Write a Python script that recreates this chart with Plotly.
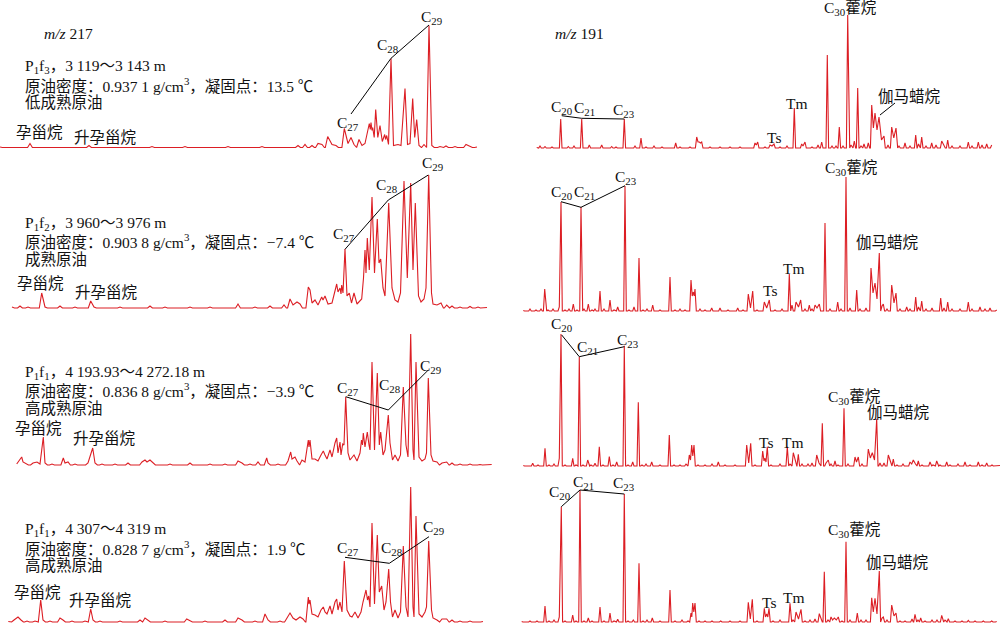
import plotly.graph_objects as go

# ---------------- data: chromatogram vertices (retention position, relative abundance) ----------------
# m/z 217 (steranes), four oils
l1_rt = [0, 30, 89, 152, 185, 228, 262, 298, 305, 312, 318, 322, 327.7, 332, 336, 344.3, 348, 351, 354, 359, 362, 365,
         369.3, 370.3, 371, 372, 372.7, 374.2, 375.7, 377.8, 380, 382.3, 384.7, 385.6, 386.7, 388.5, 391, 393.5, 398, 401,
         405, 407.5, 410, 412.7, 414.7, 416.7, 419, 424, 429, 431.8, 440, 446, 455, 466, 470, 477]
l1_ab = [0.5, 4, 2, 1, 1, 1, 1, 2, 3, 2, 4, 3, 11, 3, 2, 19, 4, 10, 3, 8, 2, 4,
         24, 18, 25, 17, 20, 10, 38, 10, 22, 6, 13, 8, 12, 3, 89, 2, 3, 2,
         59, 3, 4, 49, 10, 28, 2, 3, 122, 2, 1, 1.5, 1, 3, 1, 0.5]

l2_rt = [12, 20, 28, 41.7, 45, 60, 75, 90.7, 94, 120, 150, 165, 190, 210, 238, 255, 270, 284, 290, 293, 297, 300, 308.3,
         310, 312, 315, 318, 321.7, 323, 325, 328, 332, 336.7, 338, 340, 341, 341.7, 343, 345, 347, 349.3, 351.5, 354, 357,
         361.7, 363.5, 365, 366, 367.3, 369.3, 372, 374.5, 377.3, 379, 380.7, 383, 385, 388.7, 392, 395, 398, 400.5, 404,
         407.3, 410.7, 413, 415.3, 418.5, 421, 424, 426, 428.7, 431.5, 433, 437, 441, 446.7, 452, 460, 470, 478, 487]
l2_ab = [1, 2, 1, 15, 1, 2, 1, 7, 1, 1, 2, 1, 1, 1, 4, 1, 2, 3, 9, 3, 6, 4, 21,
         18, 5, 8, 3, 11, 8, 12, 4, 5, 24, 16, 20, 14, 23, 15, 59, 12, 15, 5, 15, 4,
         9, 30, 58, 35, 70, 38, 111, 35, 89, 45, 49, 20, 12, 105, 20, 8, 6, 15, 127,
         30, 125, 38, 105, 12, 6, 9, 20, 133, 15, 4, 3, 5, 3, 2, 1, 1.5, 1, 0.5]

l3_rt = [16.7, 19, 21.7, 23, 26, 33, 37, 40, 43.3, 45, 52, 63.3, 65, 68, 75, 88, 92.7, 95, 102, 115, 128, 142, 145, 147,
         150, 153, 170, 190, 210, 225, 238, 242, 250, 258, 266.7, 268, 278, 288, 290.7, 292, 295, 297, 302, 305, 308.3,
         309, 310, 312, 315, 318, 321, 323.3, 325, 327, 330, 332, 335, 336.7, 338, 340, 341, 342.7, 344, 345.7, 348, 350,
         354, 357, 360, 361.5, 362.5, 363.3, 365, 367.3, 369, 370, 372, 374.5, 377.3, 379.3, 380.7, 383, 385, 386, 388.3,
         390, 392.5, 395, 398, 400.5, 403.3, 406, 408, 410.7, 413, 414, 416, 419, 422, 425, 426.5, 428.3, 431, 433, 437,
         442, 446.7, 452, 460, 470, 480, 491.7]
l3_ab = [1, 4, 8, 3, 1, 2, 3, 1, 28, 2, 1, 7, 2, 3, 1, 2, 17, 2, 1, 1, 2, 3, 5, 3,
         5, 2, 1, 2, 1, 1, 4, 2, 1, 3, 7, 2, 1, 4, 13, 6, 8, 4, 5, 3, 25,
         18, 25, 6, 6, 4, 10, 14, 10, 6, 15, 8, 22, 27, 12, 23, 10, 21, 20, 68, 12, 5,
         10, 4, 12, 25, 20, 32, 18, 33, 20, 15, 103, 15, 92, 20, 33, 10, 15, 25, 50,
         22, 5, 10, 4, 10, 78, 20, 8, 131, 15, 5, 103, 8, 4, 6, 12, 87, 10, 4, 3,
         2, 3, 2, 1, 1, 0.5, 0.5]

l4_rt = [8.3, 14, 18, 21, 27, 35, 40.7, 43, 50, 60, 63, 72, 85, 90.7, 93, 100, 120, 140, 145, 148, 165, 186.7, 190, 205,
         225, 238, 242, 255, 265, 268, 280, 287, 290, 293, 296, 300, 303, 308.3, 309, 310, 312, 315, 318, 321, 323.3, 325,
         327, 330, 332, 335, 336.7, 338, 340, 342, 344.3, 347, 350, 352, 355, 358, 361, 363, 366, 367.5, 368.7, 370, 372,
         374.5, 377.3, 379.3, 381.7, 384, 386, 388.7, 390.5, 392.5, 395, 398, 400.5, 403.3, 406, 408, 410.7, 413, 414,
         416, 419, 422, 425, 426.5, 428.7, 431.5, 433, 437, 442, 446.7, 452, 460, 470, 483]
l4_ab = [0.5, 2, 5, 2, 1, 1, 22, 2, 1, 4, 2, 1, 1, 13, 2, 1, 1, 2, 4, 2, 1, 3, 1, 1,
         2, 4, 2, 1, 8, 2, 1, 4, 9, 4, 2, 5, 3, 25, 18, 22, 8, 7, 5, 12, 15, 10,
         8, 16, 8, 20, 23, 12, 20, 10, 61, 12, 6, 5, 10, 4, 10, 20, 32, 22, 26, 15, 99,
         18, 87, 30, 36, 12, 20, 53, 20, 5, 12, 4, 10, 76, 15, 5, 135, 15, 5,
         106, 8, 5, 10, 15, 81, 12, 4, 2, 3, 3, 2, 1, 1, 0.5]

# m/z 191 (terpanes), four oils
r1_rt = [536.7, 540, 545, 552, 560.7, 568.3, 574, 581.7, 589.3, 601.7, 611.7, 616, 624.3, 635, 641, 646, 654, 662, 675.7,
         680, 690, 696.7, 698, 699.3, 700.5, 701.7, 710, 720, 730, 740, 755, 756.4, 757.7, 765, 770, 772, 774, 780, 787,
         794.3, 801.7, 803, 805, 812, 818, 821.7, 827.3, 832, 836, 839.3, 843, 847.7, 851, 854.3, 857.7, 861, 864, 868.3,
         871.7, 873.4, 875, 877, 879, 881.5, 884, 888, 891.7, 893.8, 896, 899, 905, 910, 915.7, 918.5, 921.7, 926, 931.7,
         936, 941.7, 944, 947.7, 952, 960, 968.3, 972, 978.3, 982, 986.7, 991.7]
r1_ab = [0.5, 2, 1.5, 1, 29, 1.5, 2, 29, 3, 3, 1.5, 1, 29, 2, 10, 1, 2, 1, 5,
         1, 1, 11, 6, 6, 5, 6, 1, 1, 1, 1, 5, 3, 6, 1, 3, 2, 4, 1, 2,
         40, 4, 2, 6, 1, 3, 6, 93, 2, 2, 21, 2, 133, 3, 7, 60, 2, 4, 5,
         43, 20, 35, 18, 31, 8, 12, 3, 21, 10, 20, 2, 5, 2, 13, 4, 11, 2, 5,
         3, 7, 3, 8, 2, 2, 6, 2, 6, 3, 4, 3]

r2_rt = [523.3, 530, 536, 541, 544.7, 548, 553, 559.3, 561, 565, 569, 573.3, 577, 581, 584, 588.3, 592, 595, 600, 604,
         610, 614, 617.7, 625, 629, 634, 639, 643, 647, 652.7, 660, 670, 675, 680, 685, 691, 692.2, 693.3, 694.2, 695,
         700, 705, 711.7, 720, 728, 737.7, 743, 748.3, 750.5, 752.7, 757, 764.3, 766.7, 769.3, 775, 782, 789.3, 792, 796,
         798.5, 800.7, 805, 809.3, 812, 815, 817, 819.3, 825, 830, 837.7, 841, 846, 850, 856.7, 860, 866, 871, 873, 875,
         877, 879.3, 882, 883.3, 887, 891.7, 894, 896, 900, 906.7, 910, 915.7, 918.5, 921.7, 926, 932, 940.7, 944, 947.7,
         952, 960, 968.3, 972, 980, 985, 990, 996.7]
r2_ab = [0.5, 2, 1, 2, 22, 1, 2, 4, 109, 1, 2, 7, 1, 104, 2, 7, 1, 2, 20, 2,
         11, 1, 4, 125, 1, 4, 53, 1, 2, 6, 1, 34, 1, 2, 1, 31, 15, 19, 15, 22,
         2, 1, 3, 3, 1, 3, 1, 17, 3, 20, 1, 9, 3, 11, 1, 2, 37, 6, 9,
         4, 11, 2, 6, 2, 6, 3, 7, 88, 2, 9, 2, 134, 3, 21, 2, 3, 43, 18, 28,
         12, 58, 5, 7, 2, 26, 8, 18, 2, 4, 2, 14, 4, 10, 2, 3, 13, 3, 9,
         2, 2, 9, 2, 4, 2, 3, 1]

r3_rt = [523.3, 532.7, 538, 545, 549, 554, 559.3, 561, 565, 572.7, 576, 579.3, 583, 587.7, 591, 595, 599.3, 603, 609.3,
         613, 616.7, 624.3, 628, 632.7, 638.3, 642, 646, 651.7, 660, 669.3, 674, 680, 686, 689.3, 690.5, 691.7, 692.8,
         694, 698, 705, 712, 718.3, 725, 735, 746.7, 748.7, 750.7, 755, 762.7, 764, 765, 766, 767.3, 771, 780, 787.3,
         790, 793.3, 795.5, 798.3, 802, 808, 812, 816.7, 819, 822.3, 826, 828.3, 831, 835, 838, 844, 848, 855, 856.5,
         858.3, 862, 868.3, 870.3, 872.3, 874.5, 876.7, 880, 884, 888.3, 890.5, 893.3, 897, 903, 910, 911.7, 913.3,
         915.5, 918.3, 922, 930, 933, 936.7, 940, 946.7, 950, 958, 965, 970, 978.3, 982, 986.7, 992, 1000]
r3_ab = [0.5, 2.7, 1, 17.7, 1, 2, 7.7, 132, 1, 7.7, 1, 109.3, 1, 6, 1, 2.7, 19.3, 1, 9.3,
         1, 4, 120.3, 1, 4, 63.7, 1, 2, 4, 1, 31, 1, 1, 2, 11, 6, 21, 10,
         21, 1, 1, 2, 4, 1, 1, 21, 3, 22.7, 1, 15, 5, 7.7, 4, 19.3, 1, 2, 19.3,
         2, 13.3, 3, 11.7, 2, 2, 3, 11, 3, 42.7, 3, 6, 2, 5, 1, 57.7, 2, 9, 4,
         9, 2, 17, 8, 13.3, 6, 47, 3, 3, 11, 3, 7, 1, 2, 4, 2, 6,
         2, 5, 1, 4, 1, 5, 1, 4, 1, 2, 4, 1, 4, 1, 3, 1, 0.5]

r4_rt = [521.7, 530, 537, 545, 549, 554, 559.3, 561.3, 565, 572.7, 576, 580, 584, 588.3, 592, 600, 604, 610, 614, 617.7,
         624.3, 628, 633.3, 639, 643, 647, 652.3, 660, 670, 675, 682, 688, 691, 691.8, 692.7, 693.8, 695, 699, 705, 712,
         720.7, 730, 740, 748.3, 750.3, 752.3, 757, 764.3, 765.5, 766.7, 767.8, 769, 773, 780, 790, 793, 796, 798.5, 801,
         805, 810, 815, 819.3, 821, 824.3, 828, 831, 832.6, 834.3, 836.3, 838.3, 842, 846, 850, 857.3, 861, 866, 871.7,
         873.3, 875, 877, 879.3, 882, 883.3, 887, 891.7, 894, 896, 900, 905, 912, 915, 918, 920.7, 925, 932, 937, 941.7,
         945, 948.3, 955, 962, 968.3, 975, 983.3, 991.7, 996.7]
r4_ab = [0.5, 1, 1, 16, 1, 2, 5, 115.3, 1, 7, 1, 132, 1, 4, 1, 15, 1, 9, 1, 2.7,
         128, 1, 2, 58.7, 1, 2, 4, 1, 32, 1, 2, 1, 9, 5, 19, 10, 19, 1, 1, 1,
         1, 1, 1, 19.7, 3, 22.7, 1, 13.7, 5, 8, 5, 13.7, 1, 2, 18.7, 2, 10, 3, 12.7,
         1, 2, 3, 8.3, 3, 50.3, 2, 5, 2, 4, 2, 5, 1, 80.3, 2, 9, 2, 2, 24.3,
         10, 23.7, 8, 51, 4, 5, 2, 17, 6, 9, 1, 1, 3, 7.7, 2, 4, 1, 2, 2, 6.7,
         2, 3.3, 1, 1, 1.7, 1, 1, 1, 0.5]

# sample descriptions
sample_lines = [
    ["P<sub>1</sub>f<sub>3</sub>，3 119～3 143 m", "原油密度：0.937 1 g/cm<sup>3</sup>，凝固点：13.5 ℃", "低成熟原油"],
    ["P<sub>1</sub>f<sub>2</sub>，3 960～3 976 m", "原油密度：0.903 8 g/cm<sup>3</sup>，凝固点：−7.4 ℃", "成熟原油"],
    ["P<sub>1</sub>f<sub>1</sub>，4 193.93～4 272.18 m", "原油密度：0.836 8 g/cm<sup>3</sup>，凝固点：−3.9 ℃", "高成熟原油"],
    ["P<sub>1</sub>f<sub>1</sub>，4 307～4 319 m", "原油密度：0.828 7 g/cm<sup>3</sup>，凝固点：1.9 ℃", "高成熟原油"],
]
ster_labels = ["C<sub>27</sub>", "C<sub>28</sub>", "C<sub>29</sub>"]
terp_labels = ["C<sub>20</sub>", "C<sub>21</sub>", "C<sub>23</sub>"]

# ---------------- layout / style ----------------
RED = "#dc1e24"
FONT = "Liberation Serif, Noto Sans CJK SC, serif"
H = 627.0
bands = [(0, 155), (155, 315), (315, 472), (472, 627)]
base_left = [147.5, 308, 465, 622]
base_right = [148, 311, 466, 622]

# label positions per row (abundance units above baseline)
info_y = [[81.5, 62.5, 45.5], [85, 67, 49], [93, 75, 57], [93, 74, 57]]
preg_pos = [[(39, 15.5), (105, 10.5)], [(40.5, 25), (106.5, 16)], [(38.5, 37), (104, 27)], [(37.5, 30), (100, 22)]]
ster_pos = [[(347.5, 24.5), (388, 102.5), (431, 130.5)],
            [(344, 74), (387, 123), (432.5, 145)],
            [(348, 77), (390, 80), (430, 99)],
            [(348, 74), (392, 74), (433, 95)]]
ster_line = [[(351, 33.5), (391, 89.2), (429, 122.5)],
             [(345, 58.7), (388.3, 108), (428.3, 133)],
             [(345.7, 68.3), (388.3, 55), (428.3, 95)],
             [(345, 64.7), (389.3, 58.7), (429, 85.3)]]
terp_pos = [[(562, 41), (584.5, 40), (623, 38)],
            [(562, 119), (584.5, 119), (625, 134)],
            [(562, 142), (587, 119), (627, 126)],
            [(560, 130), (583, 140), (623, 139)]]
terp_line = [[(561.7, 32.3), (581.7, 29.7), (624.3, 29)],
             [(561, 109.3), (581, 103.7), (625, 125.3)],
             [(561.7, 131), (579.3, 109.3), (624.3, 119.3)],
             [(561.3, 115.3), (580, 132), (624.3, 128)]]
ts_pos = [(773.5, 11), (769.5, 21), (765.5, 24), (768.5, 20)]
tm_pos = [(797, 45), (794, 43), (793, 24), (794, 25)]
hop_pos = [(850, 140), (851, 143), (854, 69), (854, 92)]
gam_pos = [(909, 52), (887.5, 69), (898, 54), (897.5, 60)]


def with_feet(rt, ab, foot):
    xs, ys = [], []
    for i, (x, y) in enumerate(zip(rt, ab)):
        if i > 0 and x - rt[i - 1] > 2 * foot:
            xs += [rt[i - 1] + foot, x - foot]
            ys += [0, 0]
        xs.append(x)
        ys.append(y)
    return xs, ys


fig = go.Figure()
left_data = [(l1_rt, l1_ab), (l2_rt, l2_ab), (l3_rt, l3_ab), (l4_rt, l4_ab)]
right_data = [(r1_rt, r1_ab), (r2_rt, r2_ab), (r3_rt, r3_ab), (r4_rt, r4_ab)]
annotations = []


def ann(text, x, y, ax_i, xanchor="center", size=15.5):
    annotations.append(dict(text=text, x=x, y=y, xref=f"x{ax_i}", yref=f"y{ax_i}", showarrow=False,
                            xanchor=xanchor, yanchor="middle", font=dict(family=FONT, size=size, color="#111")))


for row in range(4):
    T, B = bands[row]
    for side in range(2):
        ax_i = row + 1 + 4 * side
        base = base_left[row] if side == 0 else base_right[row]
        rt, ab = (left_data if side == 0 else right_data)[row]
        xs, ys = with_feet(rt, ab, 2.4 if side == 0 else 1.3)
        fig.add_trace(go.Scatter(x=xs, y=ys, mode="lines", line=dict(color=RED, width=1.1),
                                 xaxis=f"x{ax_i}", yaxis=f"y{ax_i}", hoverinfo="skip", showlegend=False))
        lines = ster_line[row] if side == 0 else terp_line[row]
        fig.add_trace(go.Scatter(x=[p[0] for p in lines], y=[p[1] for p in lines], mode="lines",
                                 line=dict(color="black", width=1), xaxis=f"x{ax_i}", yaxis=f"y{ax_i}",
                                 hoverinfo="skip", showlegend=False))
        xd = [0, 0.5] if side == 0 else [0.5, 1.0]
        xr = [0, 500] if side == 0 else [500, 1000]
        axis_common = dict(visible=False, showgrid=False, zeroline=False, fixedrange=True)
        fig.update_layout({
            f"xaxis{ax_i}": dict(domain=xd, range=xr, anchor=f"y{ax_i}", **axis_common),
            f"yaxis{ax_i}": dict(domain=[1 - B / H, 1 - T / H], range=[-(B - base), base - T],
                                 anchor=f"x{ax_i}", **axis_common),
        })
        if side == 0:
            for k, t in enumerate(sample_lines[row]):
                ann(t, 23, info_y[row][k], ax_i, xanchor="left")
            ann("孕甾烷", preg_pos[row][0][0], preg_pos[row][0][1], ax_i)
            ann("升孕甾烷", preg_pos[row][1][0], preg_pos[row][1][1], ax_i)
            for k, t in enumerate(ster_labels):
                ann(t, ster_pos[row][k][0], ster_pos[row][k][1], ax_i)
            if row == 0:
                ann("<i>m/z</i> 217", 42, 114.5, ax_i, xanchor="left")
        else:
            for k, t in enumerate(terp_labels):
                ann(t, terp_pos[row][k][0], terp_pos[row][k][1], ax_i)
            ann("Ts", ts_pos[row][0], ts_pos[row][1], ax_i)
            ann("Tm", tm_pos[row][0], tm_pos[row][1], ax_i)
            ann("C<sub>30</sub>藿烷", hop_pos[row][0], hop_pos[row][1], ax_i)
            ann("伽马蜡烷", gam_pos[row][0], gam_pos[row][1], ax_i)
            if row == 0:
                ann("<i>m/z</i> 191", 553, 115, ax_i, xanchor="left")
                fig.add_trace(go.Scatter(x=[880, 895], y=[33, 45], mode="lines",
                                         line=dict(color="black", width=1), xaxis=f"x{ax_i}", yaxis=f"y{ax_i}",
                                         hoverinfo="skip", showlegend=False))

fig.update_layout(width=1000, height=627, margin=dict(l=0, r=0, t=0, b=0),
                  paper_bgcolor="white", plot_bgcolor="white", annotations=annotations, showlegend=False)
fig.write_html("out.html", config={"displayModeBar": False, "staticPlot": True},
               post_script="document.body.style.margin='0';document.body.style.overflow='hidden';")
